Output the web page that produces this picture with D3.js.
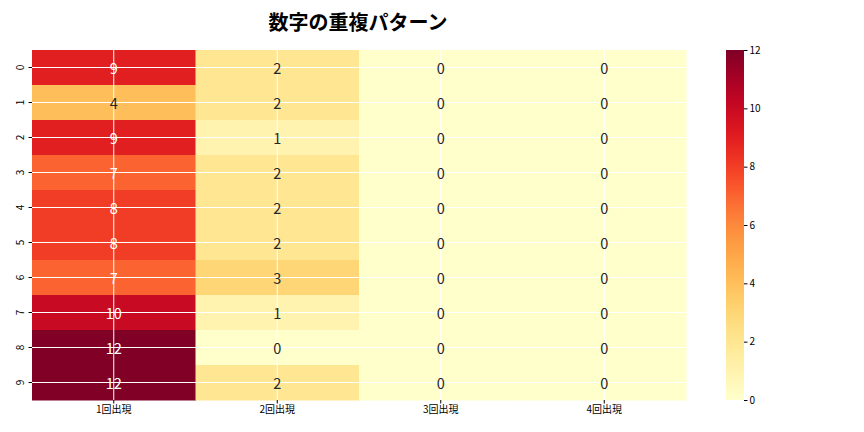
<!DOCTYPE html>
<html><head><meta charset="utf-8">
<script src="https://cdn.jsdelivr.net/npm/d3@7"></script>
<style>body{margin:0;background:#fff;} text{font-family:"Noto Sans CJK JP","DejaVu Sans",sans-serif;}</style>
</head><body><svg id="c" width="864" height="432"></svg>
<script>
const title = "数字の重複パターン";
const rowLabels = ["0","1","2","3","4","5","6","7","8","9"];
const colLabels = ["1回出現","2回出現","3回出現","4回出現"];
const once   = [9,4,9,7,8,8,7,10,12,12];
const twice  = [2,2,1,2,2,2,3,1,0,2];
const thrice = [0,0,0,0,0,0,0,0,0,0];
const four   = [0,0,0,0,0,0,0,0,0,0];
const cbTicks = [0,2,4,6,8,10,12];
const vmin = 0, vmax = 12;

const series = [once, twice, thrice, four];
const cells = [];
rowLabels.forEach((r,i)=>colLabels.forEach((c,j)=>cells.push({r,c,v:series[j][i]})));

const svg = d3.select("#c");
const L=32,R=686,T=50,B=400;
const x = d3.scaleBand().domain(colLabels).range([L,R]);
const y = d3.scaleBand().domain(rowLabels).range([T,B]);
const color = v => d3.interpolateYlOrRd((v-vmin)/(vmax-vmin));

svg.append("g").selectAll("rect").data(cells).join("rect")
  .attr("x",d=>x(d.c)).attr("y",d=>y(d.r))
  .attr("width",x.bandwidth()+0.5).attr("height",y.bandwidth()+0.5)
  .attr("fill",d=>color(d.v));

// grid lines
const g = svg.append("g").attr("stroke","#fff").attr("stroke-width",1);
colLabels.forEach(c=>g.append("line").attr("x1",x(c)+x.bandwidth()/2).attr("x2",x(c)+x.bandwidth()/2).attr("y1",T).attr("y2",B));
rowLabels.forEach(r=>g.append("line").attr("y1",y(r)+y.bandwidth()/2).attr("y2",y(r)+y.bandwidth()/2).attr("x1",L).attr("x2",R));

function lum(c){const o=d3.rgb(c);const f=v=>{v/=255;return v<=0.03928?v/12.92:Math.pow((v+0.055)/1.055,2.4);};return 0.2126*f(o.r)+0.7152*f(o.g)+0.0722*f(o.b);}
svg.append("g").selectAll("text").data(cells).join("text")
  .attr("x",d=>x(d.c)+x.bandwidth()/2).attr("y",d=>y(d.r)+y.bandwidth()/2)
  .attr("text-anchor","middle").attr("dominant-baseline","central")
  .attr("font-size",14.5)
  .attr("fill",d=>lum(color(d.v))>0.408?"#262626":"#fff")
  .text(d=>d.v);

// axes
const xa = svg.append("g").attr("transform",`translate(0,${B})`).call(d3.axisBottom(x).tickSize(3.5).tickPadding(2));
xa.select(".domain").remove();
xa.selectAll("text").attr("font-size",10).attr("fill","#000");
const ya = svg.append("g").attr("transform",`translate(${L},0)`).call(d3.axisLeft(y).tickSize(3.5).tickPadding(0));
ya.select(".domain").remove();
ya.selectAll("text").attr("font-size",10).attr("fill","#000")
  .attr("text-anchor","middle").attr("dominant-baseline","central")
  .attr("x",0).attr("y",0).attr("dy",null)
  .attr("transform","translate(-12.5,0) rotate(-90)");

// colorbar
const cbL=726, cbW=18;
const cy = d3.scaleLinear().domain([vmin,vmax]).range([B,T]);
const defs = svg.append("defs");
const grad = defs.append("linearGradient").attr("id","cb").attr("x1",0).attr("y1",1).attr("x2",0).attr("y2",0);
d3.range(0,1.0001,0.05).forEach(t=>grad.append("stop").attr("offset",t).attr("stop-color",d3.interpolateYlOrRd(t)));
svg.append("rect").attr("x",cbL).attr("y",T).attr("width",cbW).attr("height",B-T).attr("fill","url(#cb)");
const ca = svg.append("g").attr("transform",`translate(${cbL+cbW},0)`).call(d3.axisRight(cy).tickValues(cbTicks).tickSize(3.5).tickPadding(2));
ca.select(".domain").remove();
ca.selectAll("text").attr("font-size",10).attr("fill","#000");

svg.append("text").attr("x",358).attr("y",30).attr("text-anchor","middle")
  .attr("font-size",20).attr("font-weight","bold").attr("fill","#000").text(title);
</script></body></html>
